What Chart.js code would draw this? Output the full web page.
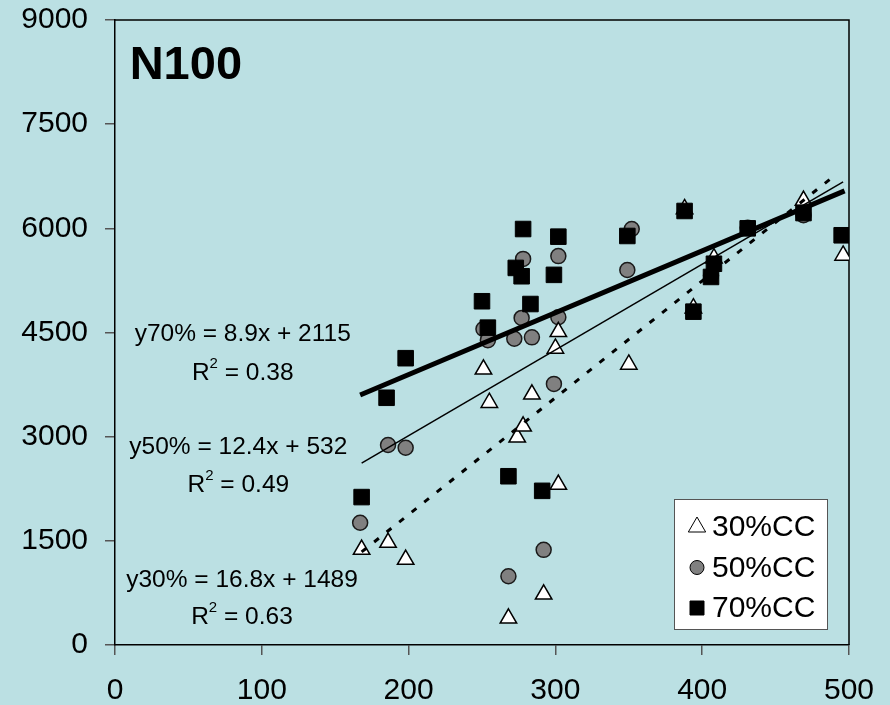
<!DOCTYPE html>
<html>
<head>
<meta charset="utf-8">
<script src="https://cdn.jsdelivr.net/npm/chart.js@4.4.1/dist/chart.umd.min.js"></script>
<style>
  html, body { margin: 0; padding: 0; background: #bbe0e3; }
  canvas { display: block; }
</style>
</head>
<body>
<canvas id="chart-n100" width="890" height="705"></canvas>
<script>
// 30%CC (triangles)
var x30 = [168, 186, 198, 268, 292, 302, 274, 278, 251, 255, 284, 302, 300, 350, 388, 394, 408, 469, 496];
var y30 = [1375, 1475, 1230, 385, 730, 2310, 2990, 3150, 3970, 3490, 3610, 4510, 4270, 4040, 6280, 4850, 5570, 6400, 5610];
// 50%CC (circles)
var x50 = [167, 186, 198, 268, 292, 299, 278, 302, 277, 302, 251, 254, 272, 284, 352, 349, 406, 431, 469];
var y50 = [1760, 2880, 2840, 990, 1370, 3760, 5560, 5600, 4710, 4720, 4550, 4390, 4410, 4430, 5990, 5400, 5320, 6010, 6190];
// 70%CC (squares)
var x70 = [168, 185, 198, 250, 254, 268, 273, 278, 277, 283, 291, 299, 302, 349, 388, 394, 406, 408, 431, 469, 495];
var y70 = [2130, 3560, 4130, 4950, 4570, 2430, 5430, 5990, 5310, 4910, 2220, 5330, 5880, 5890, 6250, 4800, 5300, 5490, 6000, 6220, 5900];

// trend line end points
var trendX70 = [167, 497], trendY70 = [3600, 6540];
var trendX50 = [168, 496], trendY50 = [2620, 6670];
var trendX30 = [168, 489], trendY30 = [1340, 6740];

var seriesNames = ['30%CC', '50%CC', '70%CC'];
var xTicks = [0, 100, 200, 300, 400, 500];
var yTicks = [0, 1500, 3000, 4500, 6000, 7500, 9000];

// equation labels: text, R2 text, centre x, equation y, R2 y (data units)
var eqText = ['y70% = 8.9x + 2115', 'y50% = 12.4x + 532', 'y30% = 16.8x + 1489'];
var r2Text = [' = 0.38', ' = 0.49', ' = 0.63'];
var eqX = [87, 84, 86.5];
var eqY = [4480, 2850, 935];
var r2Y = [3915, 2305, 405];

function pts(xs, ys) {
    return xs.map(function(x, i) { return {x: x, y: ys[i]}; });
}

var FONT = '"Liberation Sans", Arial, sans-serif';

var backdrop = {
    id: 'backdrop',
    beforeDraw: function(chart) {
        var ctx = chart.ctx;
        ctx.save();
        ctx.fillStyle = '#bbe0e3';
        ctx.fillRect(0, 0, chart.width, chart.height);
        ctx.restore();
    },
    beforeDatasetsDraw: function(chart) {
        var a = chart.chartArea, ctx = chart.ctx;
        ctx.save();
        ctx.strokeStyle = '#000';
        ctx.lineWidth = 1.5;
        ctx.beginPath();
        ctx.moveTo(a.left, a.top);
        ctx.lineTo(a.right, a.top);
        ctx.lineTo(a.right, a.bottom);
        ctx.stroke();
        ctx.restore();
    }
};

function drawMarker(ctx, kind, x, y) {
    ctx.beginPath();
    if (kind === 0) {
        var r = 10;
        ctx.moveTo(x, y - r);
        ctx.lineTo(x + r * Math.sin(2 * Math.PI / 3), y + r / 2);
        ctx.lineTo(x - r * Math.sin(2 * Math.PI / 3), y + r / 2);
        ctx.closePath();
        ctx.fillStyle = '#fff';
    } else if (kind === 1) {
        ctx.arc(x, y, 7, 0, Math.PI * 2);
        ctx.fillStyle = '#808080';
    } else {
        ctx.rect(x - 7, y - 7, 14, 14);
        ctx.fillStyle = '#000';
    }
    ctx.fill();
    ctx.stroke();
}

var annotations = {
    id: 'annotations',
    afterDatasetsDraw: function(chart) {
        var ctx = chart.ctx, sx = chart.scales.x, sy = chart.scales.y, a = chart.chartArea;
        ctx.save();
        ctx.fillStyle = '#000';
        ctx.textBaseline = 'middle';

        // title inside the plot
        ctx.font = 'bold 47px ' + FONT;
        ctx.textAlign = 'left';
        ctx.fillText('N100', sx.getPixelForValue(10), sy.getPixelForValue(8340));

        // trend line equations
        ctx.textAlign = 'center';
        for (var i = 0; i < eqText.length; i++) {
            var cx = sx.getPixelForValue(eqX[i]);
            ctx.font = '24.5px ' + FONT;
            ctx.fillText(eqText[i], cx, sy.getPixelForValue(eqY[i]));
            var wR = ctx.measureText('R').width;
            var wRest = ctx.measureText(r2Text[i]).width;
            ctx.font = '15px ' + FONT;
            var w2 = ctx.measureText('2').width;
            var left = cx - (wR + w2 + wRest) / 2;
            var ry = sy.getPixelForValue(r2Y[i]);
            ctx.textAlign = 'left';
            ctx.font = '24.5px ' + FONT;
            ctx.fillText('R', left, ry);
            ctx.fillText(r2Text[i], left + wR + w2, ry);
            ctx.font = '15px ' + FONT;
            ctx.fillText('2', left + wR, ry - 9);
            ctx.textAlign = 'center';
        }

        // legend box
        var bx = a.right - 175, by = a.bottom - 146, bw = 153, bh = 130;
        ctx.fillStyle = '#fff';
        ctx.fillRect(bx, by, bw, bh);
        ctx.strokeStyle = '#555';
        ctx.lineWidth = 1;
        ctx.strokeRect(bx + 0.5, by + 0.5, bw, bh);
        ctx.font = '30px ' + FONT;
        ctx.textAlign = 'left';
        for (var k = 0; k < seriesNames.length; k++) {
            var ly = by + 28 + k * 40.5;
            ctx.strokeStyle = '#000';
            ctx.lineWidth = 1;
            drawMarker(ctx, k, bx + 23, ly);
            ctx.fillStyle = '#000';
            ctx.fillText(seriesNames[k], bx + 38, ly + 1);
        }
        ctx.restore();
    }
};

var tickFont = { family: FONT, size: 30 };
function plain(v) { return String(v); }

var chart = new Chart(document.getElementById('chart-n100'), {
    type: 'scatter',
    data: {
        datasets: [
            {
                label: 'trend 70%', data: pts(trendX70, trendY70), showLine: true,
                borderColor: '#000', borderWidth: 5, pointRadius: 0, order: 0
            },
            {
                label: 'trend 50%', data: pts(trendX50, trendY50), showLine: true,
                borderColor: '#000', borderWidth: 1.5, pointRadius: 0, order: 0
            },
            {
                label: 'trend 30%', data: pts(trendX30, trendY30), showLine: true,
                borderColor: '#000', borderWidth: 3, borderDash: [6, 10], pointRadius: 0, order: 0
            },
            {
                label: seriesNames[2], data: pts(x70, y70), pointStyle: 'rect',
                pointRadius: 11, backgroundColor: '#000', borderColor: '#000', borderWidth: 1, order: 1
            },
            {
                label: seriesNames[0], data: pts(x30, y30), pointStyle: 'triangle',
                pointRadius: 9.5, backgroundColor: '#fff', borderColor: '#000', borderWidth: 1.5, order: 2
            },
            {
                label: seriesNames[1], data: pts(x50, y50), pointStyle: 'circle',
                pointRadius: 7.5, backgroundColor: '#808080', borderColor: '#1a1a1a', borderWidth: 1.5, order: 3
            }
        ]
    },
    options: {
        responsive: false,
        animation: false,
        devicePixelRatio: 1,
        layout: { padding: { top: 20, right: 41, left: 0, bottom: 0 } },
        plugins: { legend: { display: false }, tooltip: { enabled: false } },
        scales: {
            x: {
                type: 'linear', min: xTicks[0], max: xTicks[xTicks.length - 1],
                afterBuildTicks: function(s) { s.ticks = xTicks.map(function(v) { return {value: v}; }); },
                ticks: { font: tickFont, color: '#000', padding: 18, maxRotation: 0, callback: plain },
                grid: { drawOnChartArea: false, tickLength: 10, color: '#555', lineWidth: 1.5 },
                border: { color: '#000', width: 1.5 },
                afterFit: function(s) { s.height = 60; s.paddingLeft = 0; s.paddingRight = 0; }
            },
            y: {
                min: yTicks[0], max: yTicks[yTicks.length - 1],
                afterBuildTicks: function(s) { s.ticks = yTicks.map(function(v) { return {value: v}; }); },
                ticks: { font: tickFont, color: '#000', padding: 17, callback: plain },
                grid: { drawOnChartArea: false, tickLength: 10, color: '#555', lineWidth: 1.5 },
                border: { color: '#000', width: 1.5 },
                afterFit: function(s) { s.width = 115; s.paddingTop = 0; s.paddingBottom = 0; }
            }
        }
    },
    plugins: [backdrop, annotations]
});
</script>
</body>
</html>
